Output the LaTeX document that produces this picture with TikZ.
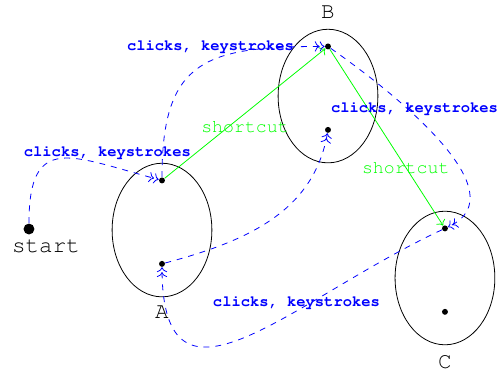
\documentclass[tikz,border=0pt]{standalone}
\usepackage[T1]{fontenc}
\usepackage{courier}
\usepackage{tikz}
\usetikzlibrary{arrows.meta,positioning,shapes.geometric}

\begin{document}
\begin{tikzpicture}[font=\ttfamily\fontsize{11.4}{13}\selectfont,>={To},
  g/.style={draw,ellipse,minimum width=17.7mm,minimum height=23.7mm,inner sep=0pt},
  p/.style={circle,fill,inner sep=0pt,minimum size=3pt},
  u/.style={blue,dashed,->>},
  k/.style={green,->,font=\ttfamily\fontsize{9.2}{11}\selectfont},
  a/.style={text=blue,font=\ttfamily\bfseries\fontsize{7.8}{9}\selectfont}]
  \useasboundingbox (0,0) rectangle (8.835,6.6);
  % screens
  \node[g](sa) at (2.874,2.519){};
  \node[g](sb) at (5.819,4.896){};
  \node[g](sc) at (7.894,1.668){};
  \node[below=1pt of sa](la){A};
  \node[above=1.5pt of sb](lb){B};
  \node[below=1.5pt of sc](lc){C};
  % states inside the screens
  \node[p](a1) at ([yshift=8.8mm]sa.center){};
  \node[p](a2) at ([yshift=-6mm]sa.center){};
  \node[p](b1) at ([yshift=8.8mm]sb.center){};
  \node[p](b2) at ([yshift=-6mm]sb.center){};
  \node[p](c1) at ([yshift=8.8mm]sc.center){};
  \node[p](c2) at ([yshift=-6mm]sc.center){};
  \node[p,minimum size=5.5pt](s) at (0.514,2.537){};
  \node[below=-1pt of s,xshift=8.6pt](ls){start};
  % transitions
  \draw[k](a1)--(b1) node[midway,below]{shortcut};
  \draw[k](b1)--(c1) node[pos=.67]{shortcut};
  \draw[u](s) to[out=90,in=165,looseness=1.7] node[a,pos=.78,above]{clicks, keystrokes} (a1);
  \draw[u](a1) to[out=90,in=180,looseness=1.45] node[a,pos=.93,left]{clicks, keystrokes} (b1);
  \draw[u](b1) to[out=-35,in=25,looseness=.95] node[a,pos=.34,xshift=3.5pt]{clicks, keystrokes} (c1);
  \draw[u](a2) to[out=15,in=-100] (b2);
  \draw[u](c1) to[out=205,in=-90,looseness=1.5] node[a,pos=.35,yshift=4.5pt]{clicks, keystrokes} (a2);
\end{tikzpicture}
\end{document}
